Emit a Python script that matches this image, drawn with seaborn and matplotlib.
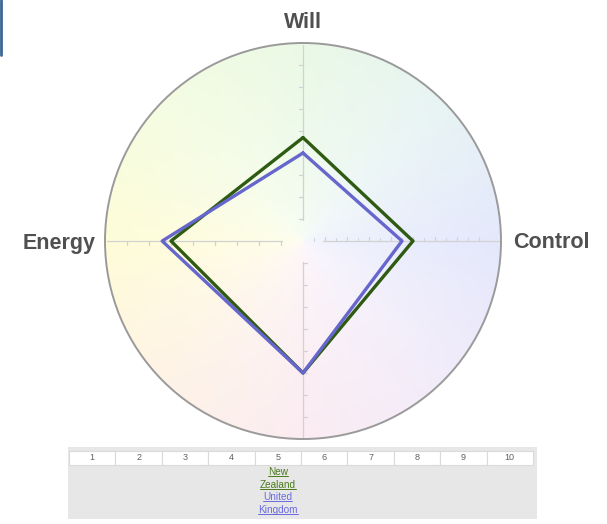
import numpy as np
import pandas as pd
import matplotlib
matplotlib.use("Agg")
import matplotlib.pyplot as plt
from matplotlib.patches import Circle, Rectangle
from matplotlib.lines import Line2D
import seaborn as sns

# ---- data ----
axes_labels = ["Will", "Control", "", "Energy"]   # bottom label is hidden behind the table
series_names = ["New Zealand", "United Kingdom"]
nz_values = [5.7, 6.0, 7.0, 7.0]
uk_values = [5.0, 5.5, 7.0, 7.4]
scale_ticks = [1, 2, 3, 4, 5, 6, 7, 8, 9, 10]
series_colors = ["#2e5a12", "#6666cc"]
legend_colors = ["#4a7a1a", "#6a6ae0"]

sns.set_theme(style="white")
plt.rcParams['font.family'] = ['Liberation Sans', 'DejaVu Sans']

W, H = 607, 524
fig = plt.figure(figsize=(W / 100, H / 100), dpi=100)
fig.patch.set_facecolor("white")

# chart rect: centre (303,241) px, radius 198 px
cx, cy, R = 303, 241, 198
rect = [(cx - R) / W, (H - cy - R) / H, 2 * R / W, 2 * R / H]
rmax = scale_ticks[-1] - scale_ticks[0]

# ---- background gradient (cartesian) ----
bg = fig.add_axes(rect)
bg.set_xlim(-rmax, rmax)
bg.set_ylim(-rmax, rmax)
bg.axis("off")
n = 400
xs = np.linspace(-rmax, rmax, n)
X, Y = np.meshgrid(xs, xs[::-1])
ang = np.degrees(np.arctan2(Y, X)) % 360
rho = np.clip(np.hypot(X, Y) / rmax, 0, 1)
anchor_ang = [0, 45, 90, 135, 180, 225, 270, 315, 360]
anchor_col = np.array([
    (228, 232, 252), (232, 244, 244), (234, 249, 230), (244, 252, 226),
    (254, 252, 216), (254, 243, 230), (251, 236, 242), (242, 236, 250),
    (228, 232, 252)]) / 255.0
img = np.zeros((n, n, 3))
for c in range(3):
    img[..., c] = np.interp(ang, anchor_ang, anchor_col[:, c])
f = (rho ** 0.6)[..., None]
img = 1 - (1 - img) * (0.35 + 0.65 * f)
im = bg.imshow(img, extent=(-rmax, rmax, -rmax, rmax), zorder=0)
clip = Circle((0, 0), rmax, transform=bg.transData)
im.set_clip_path(clip)

# axis lines with ticks
ac = "#d2d2d2"
tl = 0.18
lw = 0.9
bg.plot([0, 0], [0.95, rmax - 0.1], color=ac, lw=lw, zorder=1)
bg.plot([-(rmax - 0.1), -0.95], [0, 0], color=ac, lw=lw, zorder=1)
bg.plot([0.9, rmax - 0.1], [0, 0], color=ac, lw=lw, zorder=1)
bg.plot([0, 0], [-0.95, -(rmax - 0.1)], color=ac, lw=lw, zorder=1)
for k in range(1, rmax):
    bg.plot([-tl, 0], [k, k], color=ac, lw=lw, zorder=1)
    bg.plot([-k, -k], [0, -tl], color=ac, lw=lw, zorder=1)
    bg.plot([k, k], [0, tl], color=ac, lw=lw, zorder=1)
    bg.plot([k - 0.5, k - 0.5], [0, tl * 0.7], color=ac, lw=0.7, zorder=1)
    bg.plot([0, tl], [-k, -k], color=ac, lw=lw, zorder=1)

# ---- data on polar axes ----
ax = fig.add_axes(rect, projection="polar")
ax.set_facecolor("none")
ax.set_theta_zero_location("N")
ax.set_theta_direction(-1)
ax.set_ylim(scale_ticks[0], scale_ticks[-1])
thetas = np.linspace(0, 2 * np.pi, len(axes_labels), endpoint=False)

rows = []
for name, vals in zip(series_names, [nz_values, uk_values]):
    for i, v in enumerate(vals):
        rows.append({"series": name, "theta": thetas[i], "value": v})
    rows.append({"series": name, "theta": 2 * np.pi, "value": vals[0]})
df = pd.DataFrame(rows)
sns.lineplot(data=df, x="theta", y="value", hue="series", sort=False,
             estimator=None, palette=series_colors, linewidth=2.4, ax=ax,
             legend=False)
ax.grid(False)
ax.set_xticks([])
ax.set_yticks([])
ax.set_xlabel("")
ax.set_ylabel("")
ax.spines["polar"].set_color("#9a9a9a")
ax.spines["polar"].set_linewidth(1.4)

# axis labels
lab_kw = dict(fontsize=15.5, fontweight="bold", color="#505050",
              ha="center", va="center")
fig.text(303 / W, 1 - 22 / H, axes_labels[0], **lab_kw)
fig.text(551 / W, 1 - 243 / H, axes_labels[1], **lab_kw)
fig.text(59 / W, 1 - 243 / H, axes_labels[3], **lab_kw)

# ---- legend table ----
tx0, tx1, ty0, ty1 = 68, 537, 447, 519
tax = fig.add_axes([tx0 / W, (H - ty1) / H, (tx1 - tx0) / W, (ty1 - ty0) / H])
cw = 46.4
tax.set_xlim(0.5 - (69 - tx0) / cw, 10.5 + (tx1 - 533) / cw)
tax.set_ylim(ty1, ty0)
tax.set_facecolor("#e7e7e7")
tax.set_xticks([])
tax.set_yticks([])
for s in tax.spines.values():
    s.set_visible(False)
for t in scale_ticks:
    tax.add_patch(Rectangle((t - 0.5, 451), 1, 14, facecolor="white",
                            edgecolor="#dadada", lw=0.8))
    tax.text(t, 458, str(t), ha="center", va="center", fontsize=6.5,
             color="#606060")
legend_lines = [("New", 0), ("Zealand", 0), ("United", 1), ("Kingdom", 1)]
texts = []
for j, (word, si) in enumerate(legend_lines):
    tt = tax.text(5, 472 + j * 12.6, word, ha="center", va="center",
                  fontsize=7.2, color=legend_colors[si])
    texts.append((tt, si))

# top-left blue bar
fig.add_artist(Line2D([1 / W, 1 / W], [1, 1 - 55 / H], color="#3a6596", lw=2))

# underline legend entries
fig.canvas.draw()
rend = fig.canvas.get_renderer()
for tt, si in texts:
    bb = tt.get_window_extent(rend)
    yy = (bb.y0 + 0.8) / H
    fig.add_artist(Line2D([bb.x0 / W, bb.x1 / W], [yy, yy],
                          color=legend_colors[si], lw=0.7))

fig.savefig("out.png", dpi=100)
